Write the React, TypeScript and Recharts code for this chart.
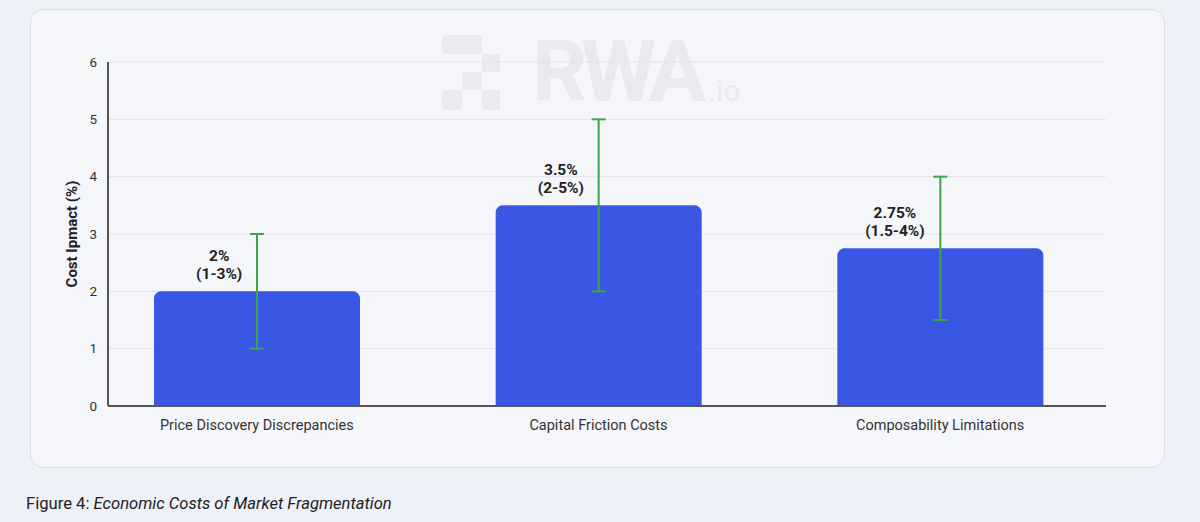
import React from "react";
import { BarChart, Bar, XAxis, YAxis, CartesianGrid, ErrorBar, LabelList } from "recharts";

const categories = ["Price Discovery Discrepancies", "Capital Friction Costs", "Composability Limitations"];
const values = [2, 3.5, 2.75];
const rangeLow = [1, 2, 1.5];
const rangeHigh = [3, 5, 4];
const valueLabels = ["2%", "3.5%", "2.75%"];
const rangeLabels = ["(1-3%)", "(2-5%)", "(1.5-4%)"];
const yTicks = [0, 1, 2, 3, 4, 5, 6];

const data = categories.map((c, i) => ({
  name: c,
  value: values[i],
  err: [values[i] - rangeLow[i], rangeHigh[i] - values[i]],
}));

const FONT = "Roboto, 'Noto Sans', sans-serif";

const BarLabel = (props: any) => {
  const { x, y, width, index } = props;
  const right = x + width / 2 - 15;
  const w2 = rangeLabels[index].length;
  const cx = right - (w2 * 7.6) / 2;
  return (
    <g fontFamily={FONT} fontWeight={700} fontSize={15.5} fill="#222">
      <text x={cx} y={y - 30} textAnchor="middle">{valueLabels[index]}</text>
      <text x={cx} y={y - 12} textAnchor="middle">{rangeLabels[index]}</text>
    </g>
  );
};

const YLabel = (props: any) => {
  const { viewBox } = props;
  const x = 72;
  const y = viewBox.y + viewBox.height / 2;
  return (
    <text x={x} y={y} transform={`rotate(-90 ${x} ${y})`} textAnchor="middle" dominantBaseline="central"
      fontFamily={FONT} fontWeight={700} fontSize={15} fill="#222">Cost Ipmact (%)</text>
  );
};

export default function App() {
  return (
    <div style={{ position: "absolute", left: 0, top: 0, width: 1200, height: 522, background: "#eef1f8", fontFamily: FONT, overflow: "hidden" }}>
      <div style={{ position: "absolute", left: 30, top: 9, width: 1133, height: 457, background: "#f5f6fa", border: "1px solid #dcdee4", borderRadius: 14 }} />
      <svg width={1200} height={522} style={{ position: "absolute", left: 0, top: 0 }}>
        <g fill="#e9eaef">
          <rect x={442} y={35} width={40} height={19} rx={3} />
          <rect x={482} y={54} width={18} height={18} rx={2} />
          <rect x={462} y={72} width={20} height={18} rx={2} />
          <rect x={442} y={90} width={20} height={20} rx={2} />
          <rect x={482} y={90} width={18} height={20} rx={2} />
        </g>
        <text x={532} y={101} fontFamily={FONT} fontWeight={700} fontSize={86} fill="#e9eaef" letterSpacing={-6}>RWA</text>
        <text x={708} y={101} fontFamily={FONT} fontWeight={400} fontSize={30} fill="#e9eaef">.io</text>
      </svg>
      <div style={{ position: "absolute", left: 0, top: 0 }}>
        <BarChart width={1200} height={522} data={data} margin={{ top: 62, left: 68, right: 94, bottom: 86 }} barSize={206}>
          <CartesianGrid vertical={false} stroke="#e2e3e8" strokeWidth={1} />
          <XAxis dataKey="name" padding={{ left: -22, right: -5 }} tickLine={false} axisLine={{ stroke: "#555", strokeWidth: 2 }}
            tick={{ fontSize: 14.5, fill: "#333", fontFamily: FONT }} tickMargin={8} interval={0} />
          <YAxis width={40} domain={[0, 6]} ticks={yTicks} tickLine={false} axisLine={{ stroke: "#555", strokeWidth: 2 }}
            tick={{ fontSize: 13.5, fill: "#333", fontFamily: FONT }} tickMargin={5} label={<YLabel />} />
          <Bar dataKey="value" fill="#3a56e4" radius={[7, 7, 0, 0]} isAnimationActive={false}>
            <ErrorBar dataKey="err" width={7} stroke="#3da449" strokeWidth={2} isAnimationActive={false} />
            <LabelList dataKey="value" content={<BarLabel />} />
          </Bar>
        </BarChart>
      </div>
      <div style={{ position: "absolute", left: 26, top: 494, fontSize: 16.6, color: "#222", whiteSpace: "nowrap" }}>
        Figure 4: <i>Economic Costs of Market Fragmentation</i>
      </div>
    </div>
  );
}
